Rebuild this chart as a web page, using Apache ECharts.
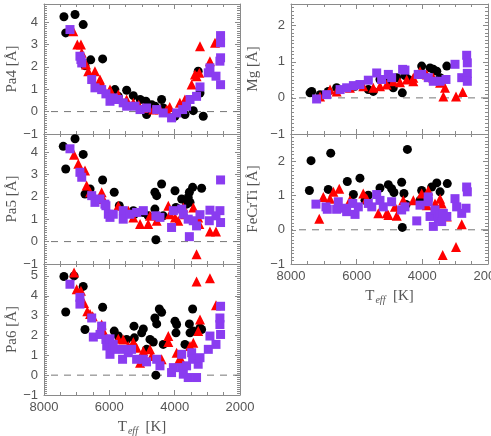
<!DOCTYPE html>
<html>
<head>
<meta charset="utf-8">
<title>Teff indices</title>
<script src="https://cdn.jsdelivr.net/npm/echarts@6/dist/echarts.min.js"></script>
</head>
<body style="margin:0;background:#fff">
<div id="main" style="width:491px;height:436px"></div>
<script>
// Teff [K], equivalent width [A] -- three groups of stars per panel
var pa4Black = [[7390,4.23],[7335,3.51],[7050,4.33],[6800,3.88],[6745,2.05],[6570,2.31],[6205,2.35],[5830,0.98],[5725,0.68],[5470,0.95],[5265,0.71],[5055,0.54],[4880,0.46],[4860,-0.13],[4810,0.31],[4700,0.30],[4600,0.24],[4400,0.54],[4350,0.16],[3990,-0.21],[3685,-0.13],[3430,0.04],[3280,1.80],[3225,0.83],[3125,-0.21]];
var pa4Red = [[7105,3.58],[6980,2.99],[6870,2.99],[6845,2.62],[6715,2.10],[6645,1.80],[6440,1.80],[6285,1.43],[6235,1.21],[5980,0.98],[5725,0.76],[5470,0.54],[5265,0.39],[5100,0.30],[4960,0.16],[4655,0.09],[4450,0.10],[4245,0.09],[4150,0.20],[3840,0.39],[3685,0.54],[3480,1.21],[3380,1.65],[3330,1.58],[3245,1.73],[3225,2.92],[2920,2.25],[2765,3.07]];
var pa4Purple = [[7205,3.66],[6900,2.47],[6870,2.32],[6845,2.17],[6540,1.43],[6440,1.06],[6235,0.98],[6105,0.79],[5980,0.46],[5880,0.61],[5725,0.54],[5575,0.39],[5470,0.24],[5215,0.24],[5060,0.09],[4860,0.16],[4550,0.09],[4350,-0.06],[4095,-0.28],[3940,-0.06],[3755,0.09],[3635,0.24],[3530,0.54],[3330,0.68],[3225,1.10],[2970,1.73],[2920,1.95],[2735,1.58],[2615,2.25],[2595,2.40],[2595,3.07],[2595,3.39],[2595,1.20]];

var pa5Black = [[7410,4.25],[7050,4.59],[7335,3.24],[6800,3.89],[6745,2.12],[6590,2.35],[6205,2.75],[5850,2.20],[5695,1.60],[5265,1.38],[5235,1.22],[4960,1.30],[4810,1.15],[4605,2.20],[4550,2.05],[4400,2.57],[4350,1.15],[4605,1.45],[4575,0.08],[3990,2.27],[3960,1.52],[3785,1.90],[3550,2.20],[3585,1.97],[3530,1.75],[3450,2.42],[3175,2.38],[3635,1.67]];
var pa5Red = [[7080,3.87],[6950,3.47],[6745,3.17],[6695,2.50],[6590,2.20],[6235,2.20],[6185,1.90],[5725,1.60],[5420,1.38],[5265,1.08],[5060,0.78],[4810,0.78],[4755,1.15],[4550,0.93],[4195,1.60],[4145,1.22],[3990,1.08],[3890,0.93],[3735,1.52],[3685,1.22],[3430,1.52],[3280,1.08],[3245,0.78],[3330,-0.57],[2920,0.45],[2735,0.45]];
var pa5Purple = [[7205,4.14],[6900,3.09],[6845,2.87],[6540,2.05],[6440,1.75],[6285,1.90],[6135,1.67],[6105,1.60],[6030,1.22],[5980,1.08],[5880,1.22],[5575,1.38],[5575,1.00],[5370,1.22],[5165,1.30],[4960,1.38],[4575,1.15],[4450,1.08],[4095,0.63],[4040,1.38],[3785,1.45],[3735,1.22],[3585,1.00],[3550,0.22],[3430,0.93],[3330,0.70],[3225,1.20],[2940,0.93],[2920,1.40],[2735,1.15],[2615,1.38],[2595,0.85],[2595,2.75]];

var pa6Black = [[7390,4.97],[7335,3.18],[7080,5.00],[6800,4.47],[6745,2.30],[6205,3.42],[5850,2.22],[5725,1.97],[5470,1.80],[5245,2.47],[5235,1.88],[5010,2.13],[4960,2.33],[4860,1.30],[4755,1.80],[4655,1.67],[4605,2.88],[4550,2.58],[4470,3.33],[4400,3.17],[4350,1.55],[4575,0.00],[3990,2.72],[3960,2.13],[3940,2.55],[3685,1.55],[3550,2.58],[3530,2.13],[3450,3.33],[3430,2.22],[3225,2.38],[3175,2.30]];
var pa6Red = [[7080,5.17],[7000,4.33],[6870,4.25],[6775,3.63],[6675,3.22],[6590,3.08],[6510,2.97],[6235,2.55],[6185,2.22],[5725,1.83],[5575,1.80],[5420,1.47],[5265,1.67],[5165,1.38],[5060,0.63],[4960,1.22],[4755,1.30],[4705,0.97],[4400,0.80],[4195,1.97],[4195,1.67],[3940,1.13],[3860,0.80],[3785,0.72],[3530,1.47],[3430,1.63],[3330,4.72],[3280,2.22],[3225,2.80],[2920,4.88],[2735,3.52]];
var pa6Purple = [[7205,4.58],[6900,3.92],[6900,3.58],[6540,2.88],[6490,1.92],[6285,2.05],[6235,2.47],[6105,1.80],[6080,1.47],[5980,1.83],[5980,1.05],[5880,1.55],[5830,1.30],[5595,0.80],[5575,1.30],[5420,1.13],[5320,1.30],[5165,0.80],[4960,0.80],[4860,0.67],[4550,0.80],[4450,0.47],[4095,0.13],[4040,0.38],[3785,1.05],[3785,0.38],[3735,0.05],[3635,0.47],[3585,-0.12],[3480,1.13],[3450,0.80],[3330,-0.12],[3280,0.55],[3225,0.88],[2970,1.30],[2920,1.97],[2735,1.55],[2615,2.55],[2615,2.88],[2595,3.47],[2595,2.05]];

var mgBlack = [[7420,0.14],[7370,0.18],[7115,0.09],[6865,0.18],[6610,0.28],[6050,0.32],[5645,0.23],[5495,0.18],[5290,0.51],[4985,0.46],[4885,0.28],[4780,0.56],[4610,0.14],[4530,0.62],[4425,0.51],[4020,0.88],[3765,0.83],[3665,0.79],[3560,0.74],[3460,0.56],[3255,0.88]];
var mgRed = [[7115,0.04],[6810,0.23],[6610,0.18],[6205,0.28],[5800,0.32],[5495,0.28],[5290,0.32],[5085,0.37],[4885,0.46],[4680,0.43],[4475,0.51],[4275,0.56],[4275,0.46],[4070,0.74],[3865,0.65],[3665,0.56],[3460,0.42],[3360,0.04],[3310,0.28],[2975,0.04],[2770,0.16]];
var mgPurple = [[7220,-0.03],[6915,0.09],[6505,0.23],[6305,0.28],[6100,0.34],[5900,0.37],[5645,0.49],[5390,0.69],[5240,0.51],[5035,0.65],[4935,0.56],[4600,0.79],[4530,0.77],[4125,0.65],[4020,0.65],[3820,0.56],[3665,0.46],[3460,0.46],[3280,0.51],[3005,0.93],[2800,0.56],[2650,1.18],[2630,0.97],[2630,0.68],[2630,0.46]];

var feBlack = [[7440,1.15],[7390,2.02],[6865,1.18],[6790,2.24],[6285,1.41],[6100,1.03],[5900,1.51],[5745,0.86],[5645,1.01],[5290,1.22],[5035,1.32],[4935,1.20],[4865,1.09],[4630,1.39],[4610,0.07],[4560,1.06],[4495,0.74],[4455,2.35],[4070,0.86],[4020,1.15],[3715,1.25],[3560,1.37],[3460,1.11],[3240,1.35]];
var feRed = [[7140,0.32],[7015,0.96],[6810,0.91],[6710,1.11],[6530,1.20],[6205,0.86],[5800,1.06],[5695,0.91],[5340,0.48],[5085,0.48],[5035,0.43],[4835,0.67],[4780,0.41],[4580,0.86],[4275,0.86],[4020,1.06],[3865,0.72],[3820,1.15],[3615,0.77],[3460,0.91],[3410,0.77],[3380,-0.74],[3255,0.39],[2975,-0.50],[2800,0.16]];
var fePurple = [[7240,0.75],[6935,0.67],[6895,0.60],[6610,0.60],[6560,0.82],[6355,0.63],[6305,0.53],[6120,0.77],[6050,0.45],[5950,0.67],[5645,0.77],[5540,0.67],[5390,1.03],[5290,0.86],[5190,0.67],[4935,0.82],[4630,0.58],[4530,0.67],[4170,0.26],[4070,0.72],[3820,0.82],[3820,0.96],[3765,0.39],[3665,0.10],[3615,0.58],[3510,0.34],[3460,0.43],[3410,0.24],[3360,0.48],[3255,0.39],[3005,0.91],[2955,0.67],[2800,0.48],[2670,0.63],[2650,1.25],[2630,1.11]];

// dashed reference line at zero, spanning the Teff range
var zeroLine = [[2000, 0], [8000, 0]];

var axisColor = '#8a8a8a';
var textColor = '#555';
var tickFont = 'Arial';
var grids = [], xAxes = [], yAxes = [], series = [];

var teffName = '{t|T}{s|eff}{t|  [K]}';
var teffRich = {
    t: {fontFamily: 'Liberation Serif', fontSize: 15, color: textColor},
    s: {fontFamily: 'Liberation Serif', fontStyle: 'italic', fontSize: 10, color: textColor, padding: [7, 0, 0, 1]}
};

function addPanel(box, yMin, yMax, yName, nameGap, showX, sets) {
    var g = grids.length;
    grids.push({left: box[0], top: box[1], width: box[2], height: box[3], outerBoundsMode: 'none'});

    ['bottom', 'top'].forEach(function (pos) {
        var labelled = showX && pos === 'bottom';
        xAxes.push({
            gridIndex: g, type: 'value', position: pos,
            min: 2000, max: 8000, interval: 2000, inverse: true,
            axisLine: {onZero: false, lineStyle: {color: axisColor}},
            axisTick: {inside: true, length: 5, lineStyle: {color: axisColor}},
            minorTick: {show: true, splitNumber: 4, length: 3, lineStyle: {color: axisColor}},
            splitLine: {show: false},
            axisLabel: {show: labelled, color: textColor, fontFamily: tickFont, fontSize: 13, margin: 6,
                showMinLabel: true, showMaxLabel: true,
                alignMinLabel: 'center', alignMaxLabel: 'center',
                formatter: function (v) { return String(v); }},
            name: labelled ? teffName : '',
            nameLocation: 'middle', nameGap: 24,
            nameTextStyle: {rich: teffRich}
        });
    });

    ['left', 'right'].forEach(function (pos) {
        yAxes.push({
            gridIndex: g, type: 'value', position: pos,
            min: yMin, max: yMax, interval: 1,
            axisLine: {onZero: false, lineStyle: {color: axisColor}},
            axisTick: {inside: true, length: 5, lineStyle: {color: axisColor}},
            minorTick: {show: true, splitNumber: 10, length: 3, lineStyle: {color: axisColor}},
            splitLine: {show: false},
            axisLabel: {show: pos === 'left', color: textColor, fontFamily: tickFont, fontSize: 13, margin: 6,
                formatter: function (v) {
                    return Number.isInteger(v) ? String(v).replace('-', '\u2212') : '';
                }},
            name: pos === 'left' ? yName : '',
            nameLocation: 'middle', nameGap: nameGap,
            nameTextStyle: {fontFamily: 'Liberation Serif', fontSize: 15, color: textColor}
        });
    });

    series.push({
        type: 'line', xAxisIndex: g * 2, yAxisIndex: g * 2,
        data: zeroLine, symbol: 'none', silent: true, z: 1,
        lineStyle: {color: '#777', type: [7, 6], width: 1}
    });

    var styles = [
        {symbol: 'circle', size: 9, color: '#000000'},
        {symbol: 'triangle', size: 10, color: '#ff0000'},
        {symbol: 'rect', size: 9, color: '#8a3cf0'}
    ];
    sets.forEach(function (d, k) {
        series.push({
            type: 'scatter', xAxisIndex: g * 2, yAxisIndex: g * 2,
            symbol: styles[k].symbol, symbolSize: styles[k].size,
            itemStyle: {color: styles[k].color, opacity: 1},
            data: d, silent: true, z: 2
        });
    });
}

addPanel([44, 4, 196, 130], -1, 4.8, 'Pa4 [\u00c5]', 19, false, [pa4Black, pa4Red, pa4Purple]);
addPanel([44, 134, 196, 130], -1, 4.8, 'Pa5 [\u00c5]', 19, false, [pa5Black, pa5Red, pa5Purple]);
addPanel([44, 264, 196, 131], -1, 5.6, 'Pa6 [\u00c5]', 19, true, [pa6Black, pa6Red, pa6Purple]);
addPanel([291, 4, 197, 130], -1, 2.6, 'Mg [\u00c5]', 30, false, [mgBlack, mgRed, mgPurple]);
addPanel([291, 134, 197, 130], -1, 2.8, 'FeCrTi [\u00c5]', 30, true, [feBlack, feRed, fePurple]);

var myChart = echarts.init(document.getElementById('main'));
myChart.setOption({
    animation: false,
    backgroundColor: '#fff',
    grid: grids,
    xAxis: xAxes,
    yAxis: yAxes,
    series: series
});
</script>
</body>
</html>
